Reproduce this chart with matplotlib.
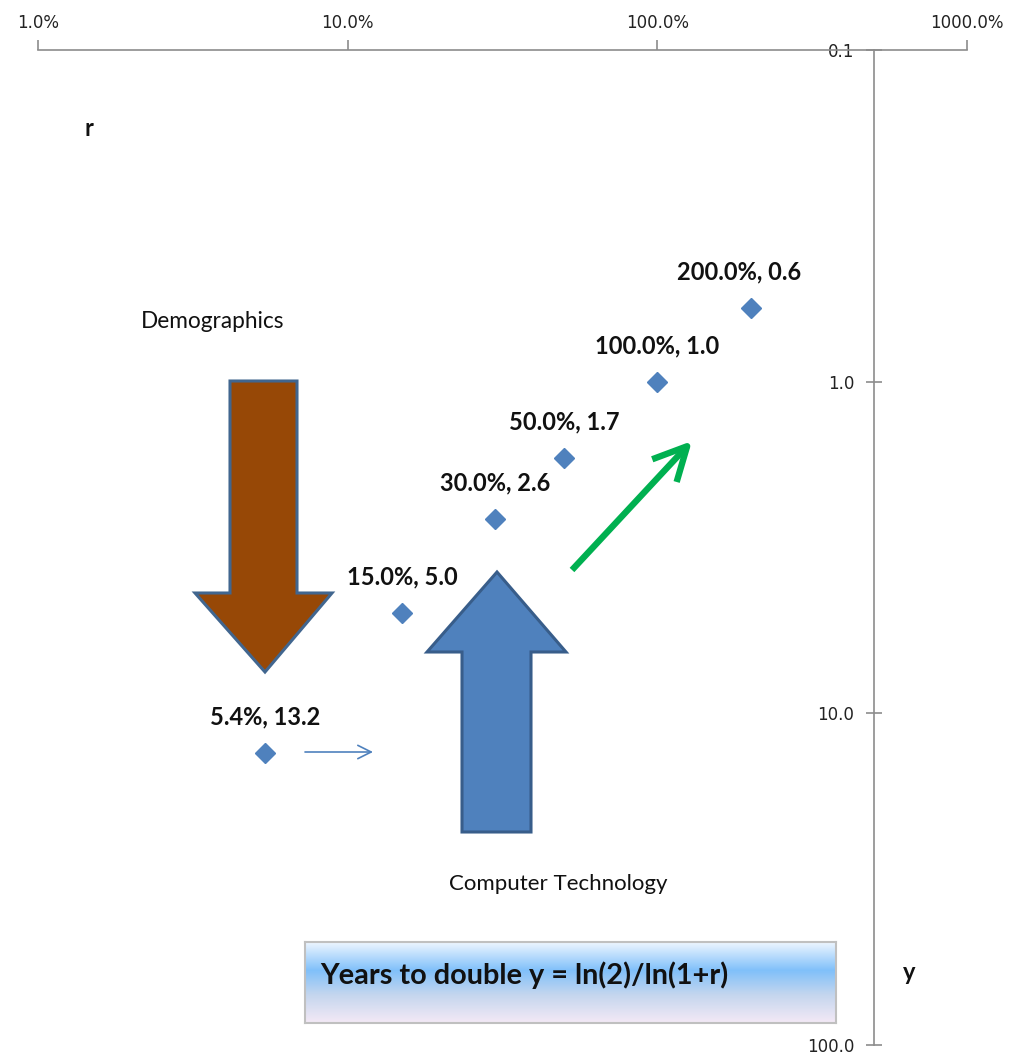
import matplotlib
matplotlib.use("Agg")
import matplotlib.pyplot as plt
import numpy as np
from matplotlib.patches import Polygon, FancyArrowPatch
from matplotlib.colors import LinearSegmentedColormap
from matplotlib.ticker import FixedLocator, NullLocator

# ---- data ----
rates = [0.054, 0.15, 0.30, 0.50, 1.00, 2.00]
years = [13.2, 5.0, 2.6, 1.7, 1.0, 0.6]
point_labels = ["5.4%, 13.2", "15.0%, 5.0", "30.0%, 2.6", "50.0%, 1.7",
                "100.0%, 1.0", "200.0%, 0.6"]
x_ticks = [0.01, 0.1, 1, 10]
x_tick_labels = ["1.0%", "10.0%", "100.0%", "1000.0%"]
y_ticks = [0.1, 1, 10, 100]
y_tick_labels = ["0.1", "1.0", "10.0", "100.0"]

W, H = 1013, 1058
fig = plt.figure(figsize=(W / 100, H / 100), dpi=100)

def P(x, y):
    return (x / W, 1 - y / H)

ax = fig.add_axes([38 / W, 1 - 1045 / H, 929 / W, 995 / H])
ax.set_xscale("log")
ax.set_yscale("log")
ax.set_xlim(0.01, 10)
ax.set_ylim(100, 0.1)

axis_col = "#8c8c8c"
ax.spines["right"].set_visible(False)
ax.spines["bottom"].set_visible(False)
ax.spines["top"].set_color(axis_col)
ax.spines["left"].set_color(axis_col)
ax.spines["top"].set_linewidth(1.2)
ax.spines["left"].set_linewidth(1.2)
ax.spines["left"].set_position(("data", 5.0))

ax.xaxis.set_ticks_position("top")
ax.xaxis.set_major_locator(FixedLocator(x_ticks))
ax.xaxis.set_minor_locator(NullLocator())
ax.set_xticklabels(x_tick_labels)
ax.tick_params(axis="x", direction="out", length=7, width=1.2, color=axis_col,
               labelsize=12, pad=6, labelcolor="#222222")

ax.yaxis.set_major_locator(FixedLocator(y_ticks))
ax.yaxis.set_minor_locator(NullLocator())
ax.set_yticklabels(y_tick_labels)
ax.tick_params(axis="y", direction="inout", length=12, width=1.2, color=axis_col,
               labelsize=12, pad=8, labelcolor="#222222")
ax.patch.set_alpha(0)

# ---- points ----
ax.plot(rates, years, linestyle="none", marker="D", markersize=10,
        color="#4f81bd", zorder=5, clip_on=False)
for i, (r, yv, lab) in enumerate(zip(rates, years, point_labels)):
    dx = -8 if i == len(rates) - 1 else 0
    ax.annotate(lab, (r, yv), xytext=(dx, 26), textcoords="offset points",
                ha="center", va="center", fontsize=17, fontweight="bold",
                family="Lato", color="#111111", zorder=6)

tf = fig.transFigure

# ---- brown down arrow ----
brown = [P(230, 381), P(297, 381), P(297, 593), P(332, 593), P(265, 672),
         P(195, 593), P(230, 593)]
fig.patches.append(Polygon(brown, closed=True, transform=tf, facecolor="#974806",
                           edgecolor="#41668f", linewidth=2.2, joinstyle="miter", zorder=3))

# ---- blue up arrow ----
blue = [P(462, 832), P(531, 832), P(531, 652), P(566, 652), P(497, 572),
        P(427, 652), P(462, 652)]
fig.patches.append(Polygon(blue, closed=True, transform=tf, facecolor="#4f81bd",
                           edgecolor="#385d8a", linewidth=2.2, joinstyle="miter", zorder=3))

# ---- green arrow ----
fig.patches.append(FancyArrowPatch(P(572, 570), P(692, 441), transform=tf,
                                   arrowstyle="->,head_length=0.8,head_width=0.4",
                                   mutation_scale=30,
                                   color="#00b050", linewidth=4.6, zorder=3,
                                   shrinkA=0, shrinkB=0, capstyle="butt"))

# ---- thin blue arrow ----
fig.patches.append(FancyArrowPatch(P(305, 752), P(373, 752), transform=tf,
                                   arrowstyle="->,head_length=0.6,head_width=0.3",
                                   mutation_scale=16,
                                   color="#4f81bd", linewidth=1.2, zorder=3,
                                   shrinkA=0, shrinkB=0))

# ---- texts ----
fig.text(*P(213, 321), "Demographics", ha="center", va="center",
         fontsize=16.3, family="Lato", color="#111111")
fig.text(*P(558, 884), "Computer Technology", ha="center", va="center",
         fontsize=16, family="Lato", color="#111111")
fig.text(*P(89, 128), "r", ha="center", va="center", fontsize=17,
         fontweight="bold", family="Lato", color="#111111")
fig.text(*P(909, 972), "y", ha="center", va="center", fontsize=17,
         fontweight="bold", family="Lato", color="#111111")

# ---- gradient box ----
gax = fig.add_axes([305 / W, 1 - 1023 / H, (836 - 305) / W, (1023 - 942) / H])
stops = [(0.0, "#eef6ff"), (0.35, "#80c0fa"), (0.65, "#c4d6ee"), (1.0, "#f4e9f6")]
cmap = LinearSegmentedColormap.from_list("g", stops)
grad = np.linspace(0, 1, 256).reshape(-1, 1)
gax.imshow(grad, aspect="auto", cmap=cmap, extent=[0, 1, 1, 0])
gax.set_xlim(0, 1)
gax.set_ylim(1, 0)
gax.set_xticks([])
gax.set_yticks([])
for s in gax.spines.values():
    s.set_color("#c0c0c0")
    s.set_linewidth(1.5)
fig.text(*P(320, 975), "Years to double y = ln(2)/ln(1+r)", ha="left", va="center",
         fontsize=20.8, fontweight="bold", family="Lato", color="#111111", zorder=10)

fig.savefig("out.png", dpi=100)
